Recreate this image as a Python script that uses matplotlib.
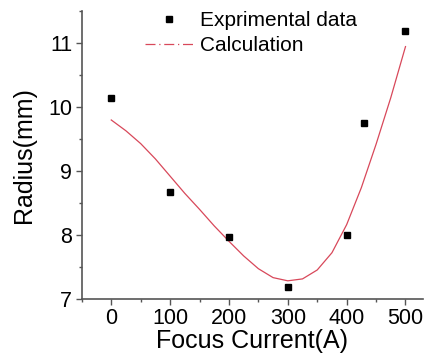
import matplotlib
matplotlib.use('Agg')
import matplotlib.pyplot as plt
from matplotlib.lines import Line2D
from matplotlib.ticker import MultipleLocator

plt.rcParams['font.family'] = ['Liberation Sans', 'DejaVu Sans']

# experimental points
exp_x = [0, 100, 200, 300, 400, 430, 500]
exp_y = [10.14, 8.67, 7.97, 7.19, 8.0, 9.75, 11.19]

# calculated curve
calc_x = [0, 25, 50, 75, 100, 125, 150, 175, 200, 225, 250, 275, 300,
          325, 350, 375, 400, 425, 450, 475, 500]
calc_y = [9.8, 9.63, 9.43, 9.19, 8.92, 8.65, 8.4, 8.14, 7.9, 7.67, 7.47, 7.33, 7.28,
          7.31, 7.45, 7.72, 8.16, 8.74, 9.42, 10.15, 10.95]

red = '#d8485a'
axc = '#555555'

fig = plt.figure(figsize=(4.24, 3.59), dpi=100)
ax = fig.add_axes([0.193, 0.168, 0.805, 0.80])

ax.plot(calc_x, calc_y, color=red, lw=0.9)
ax.plot(exp_x, exp_y, 's', color='black', ms=4.5)

ax.set_xlim(-50, 530)
ax.set_ylim(7, 11.5)
ax.xaxis.set_major_locator(MultipleLocator(100))
ax.xaxis.set_minor_locator(MultipleLocator(50))
ax.yaxis.set_major_locator(MultipleLocator(1))
ax.yaxis.set_minor_locator(MultipleLocator(0.5))
ax.tick_params(which='major', length=4, width=1, color=axc, labelsize=15.5, pad=3)
ax.tick_params(which='minor', length=2, width=1, color=axc)

for s in ['top', 'right']:
    ax.spines[s].set_visible(False)
for s in ['left', 'bottom']:
    ax.spines[s].set_color(axc)
    ax.spines[s].set_linewidth(1.2)

ax.set_xlabel('Focus Current(A)', fontsize=18, labelpad=0)
ax.set_ylabel('Radius(mm)', fontsize=18, labelpad=9)

handles = [Line2D([], [], ls='none', marker='s', color='black', ms=4.5),
           Line2D([], [], ls=(0, (8, 3, 1, 3)), color=red, lw=0.9)]
ax.legend(handles, ['Exprimental data', 'Calculation'], loc='upper left',
          bbox_to_anchor=(145 / 424, 1 - 11 / 359), bbox_transform=fig.transFigure,
          frameon=False, fontsize=15, borderpad=0, borderaxespad=0,
          handlelength=2.3, handletextpad=0.35, labelspacing=0.3)

fig.savefig('out.png', dpi=100)
